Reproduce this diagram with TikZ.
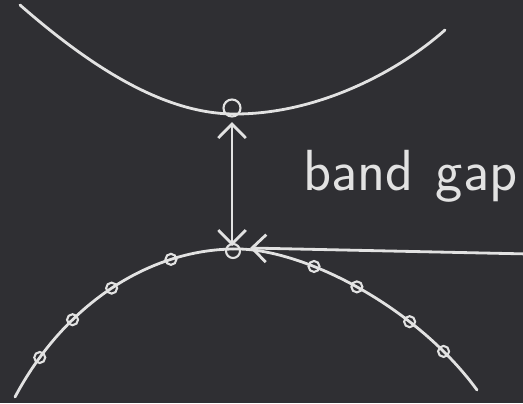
\documentclass[tikz,border=0pt]{standalone}
\usetikzlibrary{arrows.meta}
\definecolor{board}{RGB}{47,47,51}
\definecolor{chalkc}{RGB}{226,226,226}

\begin{document}
\begin{tikzpicture}[x=0.02cm,y=-0.02cm,>={Straight Barb[length=0.28cm,width=0.55cm]},
  chalk/.style={draw=chalkc,line width=1.6pt,line cap=round},
  hole/.style={circle,draw=chalkc,line width=1.2pt,inner sep=0pt,minimum size=0.22cm},
  label/.style={text=chalkc,font=\sffamily\fontsize{33}{36}\selectfont,anchor=base west}]
\fill[board] (0,0) rectangle (523,403);
\clip (0,0) rectangle (523,403);
% conduction band
\draw[chalk] (20,5) .. controls (100,75) and (170,114) .. (235,114)
  .. controls (320,114) and (400,70) .. (445,30);
% valence band with holes
\draw[chalk] (15,397) .. controls (65,303) and (150,250) .. (233,249)
  node[hole,pos=.15] {} node[hole,pos=.32] {} node[hole,pos=.5] {} node[hole,pos=.75] {};
\draw[chalk] (233,249) .. controls (300,247) and (415,305) .. (477,390)
  node[hole,pos=.34] {} node[hole,pos=.5] {} node[hole,pos=.7] {} node[hole,pos=.84] {};
\node[hole,minimum size=0.34cm] (elec) at (232,108) {};
\node[hole,minimum size=0.28cm] (hmax) at (233,251) {};
\coordinate (gtop) at (232,122);
\coordinate (gbot) at (232,246);
\coordinate (tip) at (250,248);
\coordinate (tail) at (530,254);
\draw[chalk,<->] (gtop) -- (gbot);
\draw[chalk,->] (tail) -- (tip);
\node[label] (gap) at (297,190) {band\hspace{0.45cm}gap};
\end{tikzpicture}
\end{document}
